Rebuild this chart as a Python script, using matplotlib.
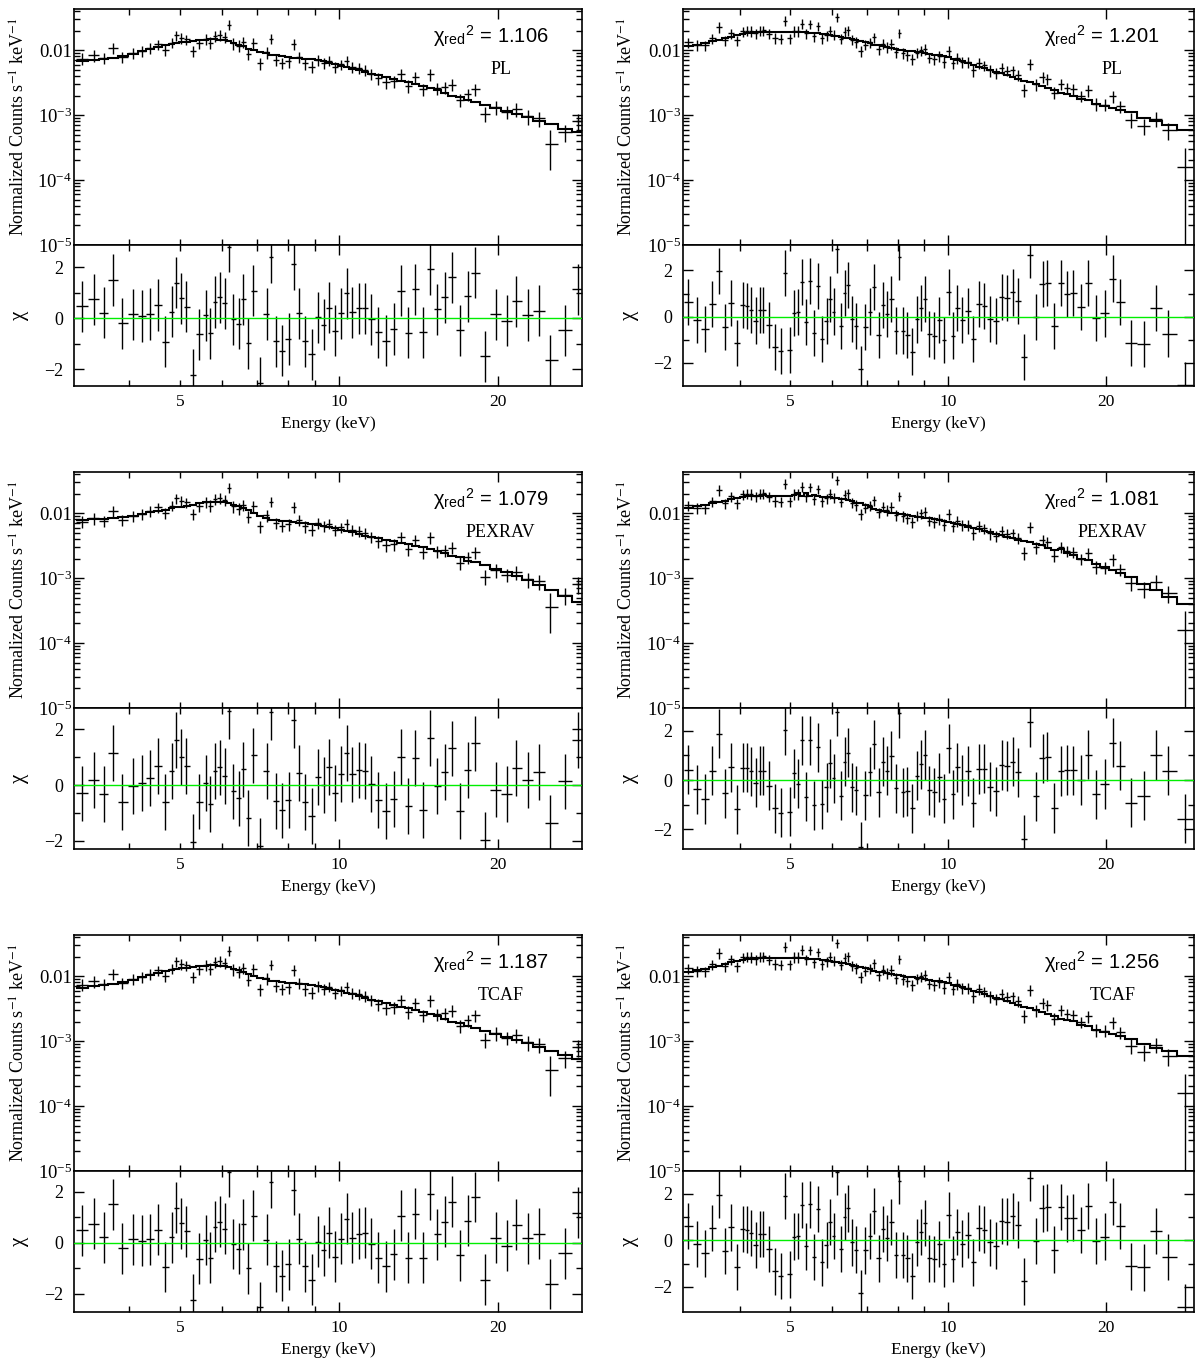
import numpy as np
import matplotlib
matplotlib.use("Agg")
import matplotlib.pyplot as plt
from matplotlib.ticker import FixedLocator, FuncFormatter, NullFormatter

plt.rcParams["font.family"] = ["Liberation Serif", "DejaVu Serif"]
plt.rcParams["mathtext.fontset"] = "stix"

# ---- left column: bin centres (keV), PL model counts, sigma/data, residuals ----
energy_left = [3.26, 3.44, 3.59, 3.73, 3.89, 4.08, 4.24, 4.39, 4.54, 4.69,
               4.82, 4.92, 5.02, 5.14, 5.29, 5.44, 5.59, 5.70, 5.83, 5.94,
               6.07, 6.20, 6.31, 6.45, 6.57, 6.73, 6.88, 7.09, 7.29, 7.42,
               7.59, 7.80, 8.02, 8.21, 8.38, 8.61, 8.87, 9.12, 9.34, 9.58,
               9.82, 10.07, 10.33, 10.59, 10.90, 11.20, 11.51, 11.85, 12.26, 12.68,
               13.09, 13.50, 13.93, 14.41, 14.87, 15.34, 15.83, 16.36, 16.91, 17.51,
               18.05, 18.85, 19.81, 20.73, 21.65, 22.74, 23.87, 25.09, 26.76, 28.35]
model_left = [0.0067, 0.0070, 0.0073, 0.0076, 0.0081, 0.0088, 0.0096, 0.0104, 0.0112, 0.0119,
              0.0125, 0.0129, 0.0132, 0.0135, 0.0139, 0.0142, 0.0145, 0.0146, 0.0146, 0.0145,
              0.0142, 0.0136, 0.0130, 0.0122, 0.0115, 0.0106, 0.0101, 0.0094, 0.0089, 0.0085,
              0.0083, 0.0080, 0.0078, 0.0077, 0.0075, 0.0074, 0.0072, 0.0070, 0.0067, 0.0064,
              0.0061, 0.0058, 0.0055, 0.0052, 0.0049, 0.0046, 0.0043, 0.0041, 0.0038, 0.0036,
              0.0034, 0.0032, 0.0030, 0.0028, 0.0026, 0.0024, 0.0022, 0.0020, 0.0019, 0.0017,
              0.0016, 0.00145, 0.00128, 0.00116, 0.00104, 0.00093, 0.00082, 0.00072, 0.00062, 0.00054]
frac_err_left = [0.20, 0.22, 0.20, 0.20, 0.19, 0.19, 0.19, 0.19, 0.18, 0.19,
                 0.18, 0.17, 0.18, 0.18, 0.20, 0.19, 0.19, 0.20, 0.19, 0.18,
                 0.18, 0.16, 0.21, 0.21, 0.19, 0.21, 0.19, 0.20, 0.20, 0.18,
                 0.20, 0.20, 0.20, 0.18, 0.20, 0.20, 0.21, 0.20, 0.19, 0.18,
                 0.19, 0.19, 0.19, 0.19, 0.19, 0.20, 0.20, 0.21, 0.21, 0.21,
                 0.20, 0.22, 0.20, 0.22, 0.20, 0.22, 0.22, 0.20, 0.23, 0.22,
                 0.20, 0.26, 0.24, 0.24, 0.24, 0.26, 0.26, 0.60, 0.29, 0.29]
resid_left_pl = [0.48, 0.74, 0.22, 1.50, -0.20, 0.16, 0.09, 0.17, 0.52, -0.92,
                 0.25, 1.40, 0.78, 0.46, -2.21, -0.63, 0.12, -0.59, 0.64, 0.82,
                 0.59, 2.81, -0.03, -0.22, 0.74, -0.98, 1.08, -2.52, 0.17, 2.39,
                 -0.89, -1.27, -0.81, 2.12, 0.20, -0.89, -1.41, 0.04, -0.26, 0.42,
                 -0.49, 0.20, 0.98, 0.24, 0.39, 0.40, -0.03, -0.55, -0.88, -0.42,
                 1.08, -0.56, 1.14, -0.55, 1.92, 0.35, 0.82, 1.61, -0.46, 0.87,
                 1.78, -1.49, 0.16, -0.10, 0.67, 0.13, 0.30, -1.64, -0.46, 1.14]
resid_left_pexrav = [-0.30, 0.18, -0.33, 1.16, -0.60, -0.02, 0.06, 0.25, 0.69, -0.62,
                     0.49, 1.60, 1.02, 0.67, -2.04, -0.59, 0.06, -0.69, 0.49, 0.63,
                     0.32, 2.65, -0.23, -0.48, 0.56, -1.19, 1.06, -2.17, 0.49, 2.63,
                     -0.56, -0.91, -0.55, 2.32, 0.42, -0.62, -1.11, 0.29, -0.01, 0.65,
                     -0.29, 0.39, 1.16, 0.38, 0.53, 0.49, 0.05, -0.55, -0.93, -0.51,
                     0.99, -0.74, 0.96, -0.88, 1.68, -0.04, 0.47, 1.31, -0.93, 0.54,
                     1.49, -1.97, -0.16, -0.33, 0.60, 0.17, 0.47, -1.35, 0.13, 1.62]
resid_left_tcaf = [0.49, 0.75, 0.21, 1.51, -0.21, 0.13, 0.08, 0.13, 0.51, -0.95,
                   0.22, 1.38, 0.76, 0.45, -2.24, -0.63, 0.11, -0.59, 0.63, 0.82,
                   0.55, 2.79, -0.05, -0.24, 0.72, -1.01, 1.07, -2.53, 0.12, 2.38,
                   -0.93, -1.30, -0.84, 2.09, 0.16, -0.93, -1.45, 0.04, -0.30, 0.39,
                   -0.55, 0.16, 0.95, 0.20, 0.36, 0.39, -0.04, -0.59, -0.92, -0.46,
                   1.07, -0.59, 1.14, -0.58, 1.91, 0.34, 0.83, 1.62, -0.49, 0.87,
                   1.80, -1.45, 0.20, -0.11, 0.71, 0.17, 0.36, -1.62, -0.42, 1.18]

# ---- right column ----
energy_right = [3.19, 3.32, 3.44, 3.55, 3.65, 3.75, 3.85, 3.95, 4.06, 4.13,
                4.21, 4.29, 4.37, 4.44, 4.55, 4.67, 4.79, 4.88, 4.99, 5.08,
                5.16, 5.25, 5.36, 5.45, 5.55, 5.65, 5.75, 5.86, 5.95, 6.05,
                6.13, 6.24, 6.35, 6.44, 6.55, 6.67, 6.81, 6.95, 7.09, 7.22,
                7.37, 7.51, 7.65, 7.79, 7.94, 8.07, 8.21, 8.35, 8.54, 8.73,
                8.87, 9.03, 9.20, 9.40, 9.61, 9.81, 10.02, 10.20, 10.40, 10.61,
                10.89, 11.16, 11.43, 11.71, 12.01, 12.33, 12.64, 12.92, 13.27, 13.56,
                13.94, 14.33, 14.67, 15.13, 15.44, 15.90, 16.42, 16.81, 17.31, 17.90,
                18.48, 19.12, 19.89, 20.57, 21.24, 22.29, 23.60, 24.84, 26.25, 28.25]
model_right = [0.0115, 0.0122, 0.0130, 0.0137, 0.0145, 0.0153, 0.0162, 0.0170, 0.0178, 0.0182,
               0.0186, 0.0188, 0.0190, 0.0191, 0.0191, 0.0191, 0.0191, 0.0191, 0.0191, 0.0191,
               0.0190, 0.0190, 0.0189, 0.0186, 0.0184, 0.0181, 0.0178, 0.0175, 0.0171, 0.0167,
               0.0164, 0.0160, 0.0156, 0.0152, 0.0148, 0.0143, 0.0137, 0.0132, 0.0127, 0.0122,
               0.0118, 0.0114, 0.0110, 0.0107, 0.0104, 0.0102, 0.0100, 0.0098, 0.0096, 0.0094,
               0.0092, 0.0090, 0.0088, 0.0085, 0.0083, 0.0080, 0.0078, 0.0074, 0.0071, 0.0067,
               0.0063, 0.0059, 0.0056, 0.0053, 0.0050, 0.0046, 0.0044, 0.0041, 0.0039, 0.0036,
               0.0034, 0.0032, 0.0030, 0.0028, 0.0026, 0.0024, 0.0022, 0.0021, 0.0020, 0.0018,
               0.0017, 0.0015, 0.0014, 0.0013, 0.0012, 0.0011, 0.00090, 0.00080, 0.00070, 0.00060]
frac_err_right = [0.19, 0.19, 0.18, 0.18, 0.18, 0.18, 0.18, 0.18, 0.18, 0.18,
                  0.18, 0.18, 0.18, 0.18, 0.18, 0.18, 0.18, 0.17, 0.18, 0.18,
                  0.18, 0.17, 0.18, 0.17, 0.18, 0.17, 0.18, 0.18, 0.18, 0.18,
                  0.17, 0.18, 0.18, 0.18, 0.18, 0.18, 0.19, 0.18, 0.18, 0.18,
                  0.19, 0.18, 0.18, 0.18, 0.19, 0.17, 0.19, 0.19, 0.20, 0.19,
                  0.19, 0.19, 0.19, 0.19, 0.19, 0.20, 0.19, 0.20, 0.19, 0.19,
                  0.19, 0.21, 0.19, 0.19, 0.20, 0.20, 0.19, 0.19, 0.19, 0.19,
                  0.22, 0.18, 0.20, 0.19, 0.19, 0.21, 0.19, 0.20, 0.20, 0.20,
                  0.20, 0.22, 0.21, 0.20, 0.21, 0.26, 0.27, 0.26, 0.28, 0.95]
resid_right_pl = [0.65, -0.14, -0.55, 0.55, 1.99, -0.45, 0.58, -1.15, 0.49, 0.47,
                  0.29, -0.17, 0.29, 0.29, -0.37, -1.32, -1.50, 1.90, -1.44, 0.17,
                  0.19, 1.51, -0.24, 1.55, -0.72, 1.34, -0.95, -0.20, 0.78, 0.22,
                  2.91, -0.39, 1.04, 1.37, -0.09, -0.40, -2.27, -0.46, 0.22, 1.27,
                  -0.79, 0.50, 0.10, 0.78, -0.60, 2.59, -0.60, -0.78, -1.51, -0.12,
                  0.36, 0.75, -0.76, -0.82, -0.16, -1.01, 1.08, -0.82, 0.36, -0.14,
                  0.26, -0.95, 0.55, 0.47, -0.10, -0.19, 0.86, 0.82, 1.05, 0.69,
                  -1.76, 2.66, -0.03, 1.40, 1.44, -0.39, 1.47, 0.98, 1.01, 0.43,
                  1.47, -0.07, 0.14, 1.65, 0.62, -1.15, -1.18, 0.37, -0.73, -2.95]
resid_right_pexrav = [0.43, -0.38, -0.77, 0.39, 1.88, -0.54, 0.52, -1.18, 0.50, 0.50,
                      0.35, -0.11, 0.38, 0.38, -0.22, -1.15, -1.32, 2.02, -1.29, 0.28,
                      -0.15, 1.61, -0.68, 1.61, -1.02, 1.33, -0.99, -0.30, 0.68, 0.07,
                      2.78, -0.64, 0.75, 1.11, -0.30, -0.42, -2.71, -0.61, 0.34, 1.46,
                      -0.50, 0.75, 0.38, 0.99, -0.34, 2.71, -0.50, -0.45, -1.15, 0.18,
                      0.64, 1.02, -0.41, -0.50, 0.11, -0.75, 1.29, -0.58, 0.52, 0.00,
                      0.37, -0.92, 0.45, 0.47, -0.27, -0.45, 0.61, 0.57, 0.75, 0.31,
                      -2.40, 2.35, -0.66, 0.88, 0.95, -1.13, 0.37, 0.41, 0.40, 0.00,
                      1.04, -0.58, -0.16, 1.52, 0.58, -0.92, -0.64, 1.02, 0.39, -1.57]
resid_right_tcaf = [0.63, -0.16, -0.56, 0.53, 1.97, -0.45, 0.56, -1.15, 0.49, 0.46,
                    0.32, -0.19, 0.27, 0.27, -0.37, -1.34, -1.53, 1.90, -1.47, 0.16,
                    0.20, 1.53, -0.26, 1.55, -0.71, 1.34, -0.95, -0.20, 0.78, 0.20,
                    2.94, -0.37, 1.02, 1.38, -0.09, -0.40, -2.27, -0.43, 0.20, 1.27,
                    -0.78, 0.49, 0.10, 0.78, -0.62, 2.55, -0.62, -0.78, -1.53, -0.09,
                    0.35, 0.75, -0.78, -0.81, -0.17, -1.01, 1.09, -0.81, 0.35, -0.14,
                    0.24, -0.95, 0.52, 0.46, -0.09, -0.23, 0.83, 0.81, 1.04, 0.68,
                    -1.77, 2.68, -0.03, 1.38, 1.42, -0.40, 1.45, 0.95, 0.98, 0.45,
                    1.47, -0.03, 0.16, 1.67, 0.63, -1.12, -1.17, 0.39, -0.72, -2.89]

model_names = ["PL", "PEXRAV", "TCAF"]
chi2_left = ["1.106", "1.079", "1.187"]
chi2_right = ["1.201", "1.081", "1.256"]
resid_ylim_left = [(-2.65, 2.87), (-2.29, 2.76), (-2.72, 2.82)]
resid_ylim_right = [(-3.0, 3.1), (-2.8, 2.93), (-3.09, 2.99)]

W, H = 1196, 1362
fig = plt.figure(figsize=(W / 100, H / 100), dpi=100)


def bin_edges(e):
    mid = np.sqrt(e[1:] * e[:-1])
    return np.concatenate([[e[0] ** 2 / mid[0]], mid, [e[-1] ** 2 / mid[-1]]])


def energy_axis(ax, xlim, labels):
    ax.set_xscale("log")
    ax.set_xlim(*xlim)
    ax.xaxis.set_major_locator(FixedLocator([10, 20]))
    ax.xaxis.set_minor_locator(FixedLocator([4, 5, 6, 7, 8, 9]))
    if labels:
        ax.xaxis.set_major_formatter(FuncFormatter(lambda v, p: f"{v:g}"))
        ax.xaxis.set_minor_formatter(FuncFormatter(lambda v, p: "5" if abs(v - 5) < 1e-6 else ""))
    else:
        ax.xaxis.set_major_formatter(NullFormatter())
        ax.xaxis.set_minor_formatter(NullFormatter())
    ax.tick_params(axis="x", which="both", direction="in", top=True, bottom=True,
                   labelsize=12.5, pad=6)
    ax.tick_params(axis="x", which="major", length=7, width=1)
    ax.tick_params(axis="x", which="minor", length=4, width=1)


def draw_column(left_px, width_px, xlim, energy, model_pl, frac_err, resids, chi2s, ylims):
    e = np.array(energy)
    edges = bin_edges(e)
    xerr = [e - edges[:-1], edges[1:] - e]
    f = np.array(frac_err)
    data = np.array(model_pl) / (1 - np.array(resids[0]) * f)
    sigma = f * data
    is_left = left_px < 300
    for i in range(3):
        r = np.array(resids[i])
        model = data - r * sigma
        top = 9 + 463 * i
        mid = top + 236
        bot = mid + 141

        ax = fig.add_axes([left_px / W, 1 - mid / H, width_px / W, 236 / H])
        ax.errorbar(e, data, xerr=xerr, yerr=sigma, fmt="none", ecolor="black",
                    elinewidth=1.0, capsize=0)
        ax.stairs(model, edges, baseline=None, color="black", linewidth=1.5)
        ax.set_yscale("log")
        ax.set_ylim(1e-5, 0.043)
        ax.yaxis.set_major_locator(FixedLocator([1e-5, 1e-4, 1e-3, 1e-2]))
        ax.yaxis.set_major_formatter(FuncFormatter(
            lambda v, p: "0.01" if v > 5e-3 else r"$\mathdefault{10^{%d}}$" % round(np.log10(v))))
        ax.yaxis.set_minor_locator(FixedLocator(
            [m * 10.0 ** k for k in range(-5, -1) for m in range(2, 10)]))
        ax.yaxis.set_minor_formatter(NullFormatter())
        ax.tick_params(axis="y", which="both", direction="in", left=True, right=True,
                       labelsize=13.5, pad=1.5)
        ax.tick_params(axis="y", which="major", length=7, width=1)
        ax.tick_params(axis="y", which="minor", length=4, width=1)
        energy_axis(ax, xlim, False)
        ax.set_ylabel(r"Normalized Counts s$^{-1}$ keV$^{-1}$", fontsize=13)
        ax.yaxis.set_label_coords(-0.088 if is_left else -0.091, 0.5)
        ax.text(0.82, 0.885, r"χ$_{\mathdefault{red}}$$^{\mathdefault{2}}$ = " + chi2s[i],
                transform=ax.transAxes, ha="center", va="center", fontsize=14.5,
                family="Liberation Sans")
        ax.text(0.84, 0.745, model_names[i], transform=ax.transAxes,
                ha="center", va="center", fontsize=13)

        rx = fig.add_axes([left_px / W, 1 - bot / H, width_px / W, 141 / H])
        rx.errorbar(e, r, xerr=xerr, yerr=1.0, fmt="none", ecolor="black",
                    elinewidth=1.0, capsize=0)
        rx.axhline(0, color="#00ee00", linewidth=1.0, zorder=3)
        rx.set_ylim(*ylims[i])
        rx.yaxis.set_major_locator(FixedLocator([-2, 0, 2]))
        rx.yaxis.set_minor_locator(FixedLocator([-1, 1]))
        rx.tick_params(axis="y", which="both", direction="in", left=True, right=True,
                       labelsize=13, pad=8)
        rx.tick_params(axis="y", which="major", length=7, width=1)
        rx.tick_params(axis="y", which="minor", length=4, width=1)
        energy_axis(rx, xlim, True)
        rx.set_xlabel("Energy (keV)", fontsize=12.5, labelpad=4)
        rx.set_ylabel("χ", fontsize=15, rotation=90)
        rx.yaxis.set_label_coords(-0.088 if is_left else -0.086, 0.5)
        for a in (ax, rx):
            for s in a.spines.values():
                s.set_linewidth(1.2)


draw_column(74, 508, (3.15, 28.8), energy_left, model_left, frac_err_left,
            [resid_left_pl, resid_left_pexrav, resid_left_tcaf], chi2_left, resid_ylim_left)
draw_column(683, 511, (3.12, 29.4), energy_right, model_right, frac_err_right,
            [resid_right_pl, resid_right_pexrav, resid_right_tcaf], chi2_right, resid_ylim_right)

fig.savefig("out.png", dpi=100)
